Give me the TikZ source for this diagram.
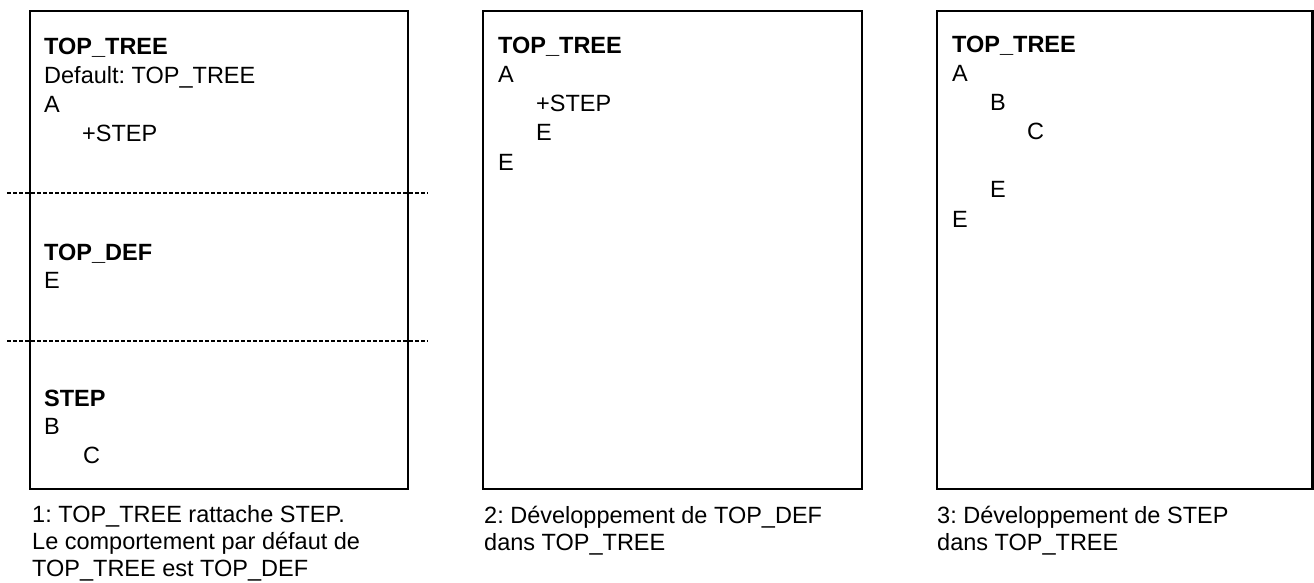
\documentclass[tikz,border=0pt]{standalone}
\usepackage{fontspec}
\setmainfont{Liberation Sans}
\usepackage{tikz}
\usetikzlibrary{positioning}
\tikzset{
  panel/.style={
    rectangle, draw=black, line width=2.3pt,
    inner sep=0pt, minimum height=478pt
  },
  listing/.style={
    anchor=base west, align=left, inner sep=0pt,
    font=\fontsize{23.5}{29.1}\selectfont
  },
  caption/.style={
    anchor=base west, align=left, inner sep=0pt,
    font=\fontsize{23.5}{27}\selectfont
  },
  sepline/.style={black, line width=1.6pt, dash pattern=on 4.2pt off 1.8pt}
}

\begin{document}
\frenchspacing
\begin{tikzpicture}[x=1pt,y=-1pt]
\useasboundingbox (0,0) rectangle (1314,583);
% three panels
\node[panel,minimum width=378pt] (panelOne) at (219,250) {};
\node[panel,minimum width=379pt] (panelTwo) at (672.5,250) {};
\node[panel,minimum width=375.5pt] (panelThree) at (1124.75,250) {};
% panel 1: definitions split by dashed lines
\draw[sepline] (7,193) -- (428,193);
\draw[sepline] (7,341) -- (428,341);
\node[listing] (topTree) at (44,142) {\textbf{TOP\_TREE}\\Default: TOP\_TREE\\A\\\hspace*{38pt}+STEP};
\node[listing,font=\fontsize{23.5}{28}\selectfont] (topDef) at (44,288) {\textbf{TOP\_DEF}\\E};
\node[listing,font=\fontsize{23.5}{28.5}\selectfont] (stepDef) at (44,463) {\textbf{STEP}\\B\\\hspace*{39pt}C};
% panel 2: TOP_DEF expanded
\node[listing] (treeTwo) at (498,170) {\textbf{TOP\_TREE}\\A\\\hspace*{38pt}+STEP\\\hspace*{38pt}E\\E};
% panel 3: STEP expanded
\node[listing] (treeThree) at (952,227) {\textbf{TOP\_TREE}\\A\\\hspace*{38pt}B\\\hspace*{75pt}C\\[29pt]\hspace*{38pt}E\\E};
% captions
\node[caption] (capOne) at (32,576) {1: TOP\_TREE rattache STEP.\\Le comportement par défaut de\\TOP\_TREE est TOP\_DEF};
\node[caption] (capTwo) at (484,550) {2: Développement de TOP\_DEF\\dans TOP\_TREE};
\node[caption] (capThree) at (937,550) {3: Développement de STEP\\dans TOP\_TREE};
\end{tikzpicture}
\end{document}
